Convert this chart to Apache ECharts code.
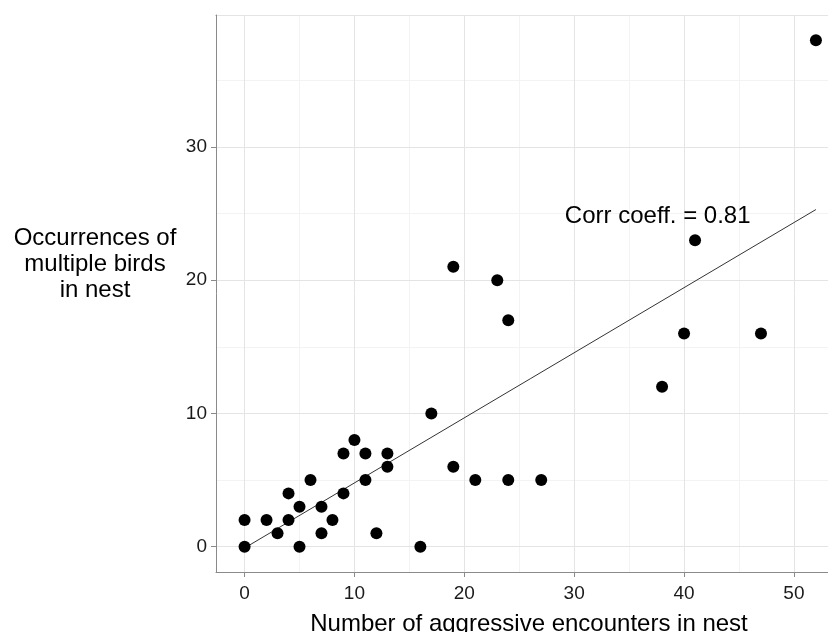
<!DOCTYPE html>
<html>
<head>
<meta charset="utf-8">
<script src="https://cdn.jsdelivr.net/npm/echarts@6/dist/echarts.min.js"></script>
<style>
  html, body { margin: 0; padding: 0; background: #fff; }
  #chart { width: 828px; height: 632px; }
</style>
</head>
<body>
<div id="chart"></div>
<script>
// aggressive encounters (x) vs occurrences of multiple birds (y), one point per nest
const encounters = [0, 0, 2, 3, 4, 4, 5, 5, 6, 7, 7, 8, 9, 9, 10, 11, 11, 12, 13, 13,
  16, 17, 19, 19, 21, 23, 24, 24, 27, 38, 40, 41, 47, 52];
const occurrences = [2, 0, 2, 1, 4, 2, 3, 0, 5, 3, 1, 2, 7, 4, 8, 7, 5, 1, 7, 6,
  0, 10, 21, 6, 5, 20, 17, 5, 5, 12, 16, 23, 16, 38];

// fitted line end points
const fitX = [0, 52];
const fitY = [-0.1, 25.3];

const corrLabel = 'Corr coeff. = 0.81';
const corrPos = [37.6, 24.8];

const yTitle = 'Occurrences of\nmultiple birds\nin nest';
const xTitle = 'Number of aggressive encounters in nest';

const font = '"Liberation Sans", Arial, sans-serif';
const axisGrey = '#8a8a8a';

const myChart = echarts.init(document.getElementById('chart'));

// no fixed interval here: min is not a multiple of 10, so let echarts pick
// nice steps (10 for major lines, 5 for the minor ones)
let option = {
  animation: false,
  grid: {
    left: 216,
    right: 0,
    top: 15,
    bottom: 60,
    containLabel: false,
    outerBoundsMode: 'none'
  },
  graphic: [
    {
      type: 'text',
      x: 95,
      y: 264,
      silent: true,
      style: {
        text: yTitle,
        font: '24px ' + font,
        lineHeight: 26,
        fill: '#000',
        align: 'center',
        verticalAlign: 'middle'
      }
    }
  ],
  xAxis: [
    {
      type: 'value',
      min: -2.6,
      max: 53.1,
      splitNumber: 5,
      position: 'bottom',
      z: 2,
      axisLine: { onZero: false, lineStyle: { color: axisGrey, width: 1 } },
      axisTick: { length: 5, lineStyle: { color: axisGrey } },
      axisLabel: {
        showMinLabel: false,
        showMaxLabel: false,
        margin: 12,
        fontSize: 19,
        color: '#1a1a1a',
        fontFamily: font
      },
      splitLine: { show: true, showMaxLine: false, lineStyle: { color: '#e4e4e4', width: 1 } },
      name: xTitle,
      nameLocation: 'middle',
      nameGap: 40,
      nameTextStyle: { fontSize: 24, color: '#000', fontFamily: font, padding: [0, 0, 0, 14] }
    },
    {
      // minor grid lines + top border
      type: 'value',
      min: -2.6,
      max: 53.1,
      splitNumber: 10,
      position: 'top',
      z: 1,
      axisLine: { show: true, onZero: false, lineStyle: { color: axisGrey, width: 1 } },
      axisTick: { show: false },
      axisLabel: { show: false },
      splitLine: { show: true, showMaxLine: false, lineStyle: { color: '#f3f3f3', width: 1 } }
    }
  ],
  yAxis: [
    {
      type: 'value',
      min: -1.9,
      max: 39.9,
      splitNumber: 4,
      position: 'left',
      z: 2,
      axisLine: { show: true, onZero: false, lineStyle: { color: axisGrey, width: 1 } },
      axisTick: { show: true, length: 5, lineStyle: { color: axisGrey } },
      axisLabel: {
        showMinLabel: false,
        showMaxLabel: false,
        margin: 9,
        fontSize: 19,
        color: '#1a1a1a',
        fontFamily: font
      },
      splitLine: { show: true, lineStyle: { color: '#e4e4e4', width: 1 } }
    },
    {
      type: 'value',
      min: -1.9,
      max: 39.9,
      splitNumber: 8,
      position: 'right',
      z: 1,
      axisLine: { show: false },
      axisTick: { show: false },
      axisLabel: { show: false },
      splitLine: { show: true, lineStyle: { color: '#f3f3f3', width: 1 } }
    }
  ],
  series: [
    {
      type: 'line',
      data: fitX.map((x, i) => [x, fitY[i]]),
      showSymbol: false,
      symbol: 'none',
      lineStyle: { color: '#333', width: 1 },
      silent: true,
      z: 3
    },
    {
      type: 'scatter',
      data: encounters.map((x, i) => [x, occurrences[i]]),
      symbolSize: 12,
      itemStyle: { color: '#000', opacity: 1 },
      silent: true,
      z: 4
    },
    {
      type: 'scatter',
      data: [corrPos],
      symbolSize: 0,
      silent: true,
      z: 5,
      itemStyle: { opacity: 1 },
      label: {
        show: true,
        position: 'inside',
        formatter: corrLabel,
        fontSize: 24,
        color: '#000',
        opacity: 1,
        fontFamily: font
      }
    }
  ]
};

myChart.setOption(option);
</script>
</body>
</html>
